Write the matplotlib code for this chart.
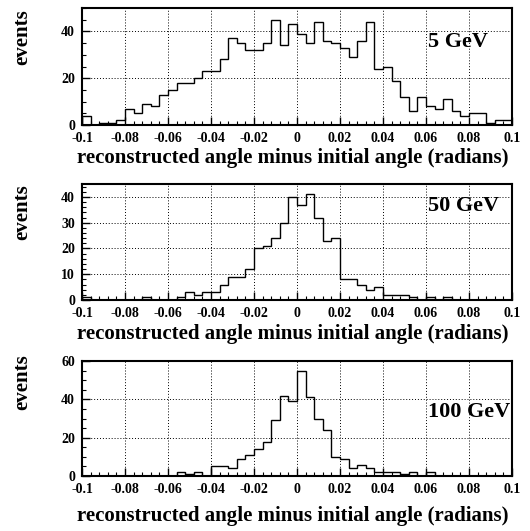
import numpy as np
import matplotlib
matplotlib.use("Agg")
import matplotlib.pyplot as plt
from matplotlib.ticker import MultipleLocator

plt.rcParams['font.family'] = ['Liberation Serif', 'DejaVu Serif']
plt.rcParams['font.weight'] = 'bold'

# 50 bins from -0.1 to 0.1
bin_edges = np.linspace(-0.1, 0.1, 51)

counts_5gev = [4, 0, 1, 1, 2, 7, 5, 9, 8, 13,
               15, 18, 18, 20, 23, 23, 28, 37, 35, 32,
               32, 35, 45, 34, 43, 39, 35, 44, 36, 35,
               33, 29, 36, 44, 24, 25, 19, 12, 6, 12,
               8, 7, 11, 6, 4, 5, 5, 1, 2, 2]
counts_50gev = [1, 0, 0, 0, 0, 0, 0, 1, 0, 0,
                0, 1, 3, 2, 3, 3, 6, 9, 9, 12,
                20, 21, 24, 30, 40, 37, 41, 32, 23, 24,
                8, 8, 6, 4, 5, 2, 2, 2, 1, 0,
                1, 0, 1, 0, 0, 0, 0, 0, 0, 0]
counts_100gev = [0, 0, 0, 0, 0, 0, 0, 0, 0, 0,
                 0, 2, 1, 2, 0, 5, 5, 4, 9, 11,
                 14, 18, 29, 42, 39, 55, 41, 30, 24, 10,
                 9, 4, 6, 4, 2, 2, 2, 1, 2, 0,
                 2, 0, 0, 0, 0, 0, 0, 0, 0, 0]

labels = ["5 GeV", "50 GeV", "100 GeV"]
all_counts = [counts_5gev, counts_50gev, counts_100gev]
ymax = [50, 45, 60]
ymajor = [20, 10, 20]
yminor = [5, 2, 5]

fig = plt.figure(figsize=(5.30, 5.31), dpi=100)

# pixel layout: (top, bottom) of each panel
panels = [(8, 125), (184, 300), (361, 476)]
xlabel_y = [158, 334, 516]
tag_y = [42, 206, 412]
ylab_y = [37, 212, 382]

W, H = 530.0, 531.0
for i in range(3):
    top, bot = panels[i]
    ax = fig.add_axes([82 / W, 1 - bot / H, 430 / W, (bot - top) / H])
    ax.stairs(all_counts[i], bin_edges, color='black', linewidth=1.0)
    ax.set_xlim(-0.1, 0.1)
    ax.set_ylim(0, ymax[i])

    ax.xaxis.set_major_locator(MultipleLocator(0.02))
    ax.xaxis.set_minor_locator(MultipleLocator(0.004))
    ax.yaxis.set_major_locator(MultipleLocator(ymajor[i]))
    ax.yaxis.set_minor_locator(MultipleLocator(yminor[i]))
    ax.tick_params(which='both', direction='in', top=False, right=False)
    ax.tick_params(which='major', length=6, width=1, labelsize=10)
    ax.tick_params(axis='x', which='major', pad=5)
    ax.tick_params(axis='y', which='major', pad=5)
    ax.tick_params(which='minor', length=3, width=0.8)
    ax.grid(True, which='major', color='black', linestyle=(0, (1, 2)), linewidth=0.7)

    ax.set_xticks(np.arange(-0.1, 0.1001, 0.02))
    ax.set_xticklabels(["-0.1", "-0.08", "-0.06", "-0.04", "-0.02", "0",
                        "0.02", "0.04", "0.06", "0.08", "0.1"])
    for lab in ax.get_xticklabels() + ax.get_yticklabels():
        lab.set_fontweight('bold')

    for s in ax.spines.values():
        s.set_linewidth(1.5)

    fig.text(428 / W, 1 - tag_y[i] / H, labels[i], fontsize=16,
             fontweight='bold', va='center', ha='left')
    fig.text(293 / W, 1 - xlabel_y[i] / H,
             "reconstructed angle minus initial angle (radians)",
             fontsize=15, fontweight='bold', ha='center', va='center')
    fig.text(22 / W, 1 - ylab_y[i] / H, "events", fontsize=15,
             fontweight='bold', rotation=90, ha='center', va='center')

fig.savefig("out.png", dpi=100)
